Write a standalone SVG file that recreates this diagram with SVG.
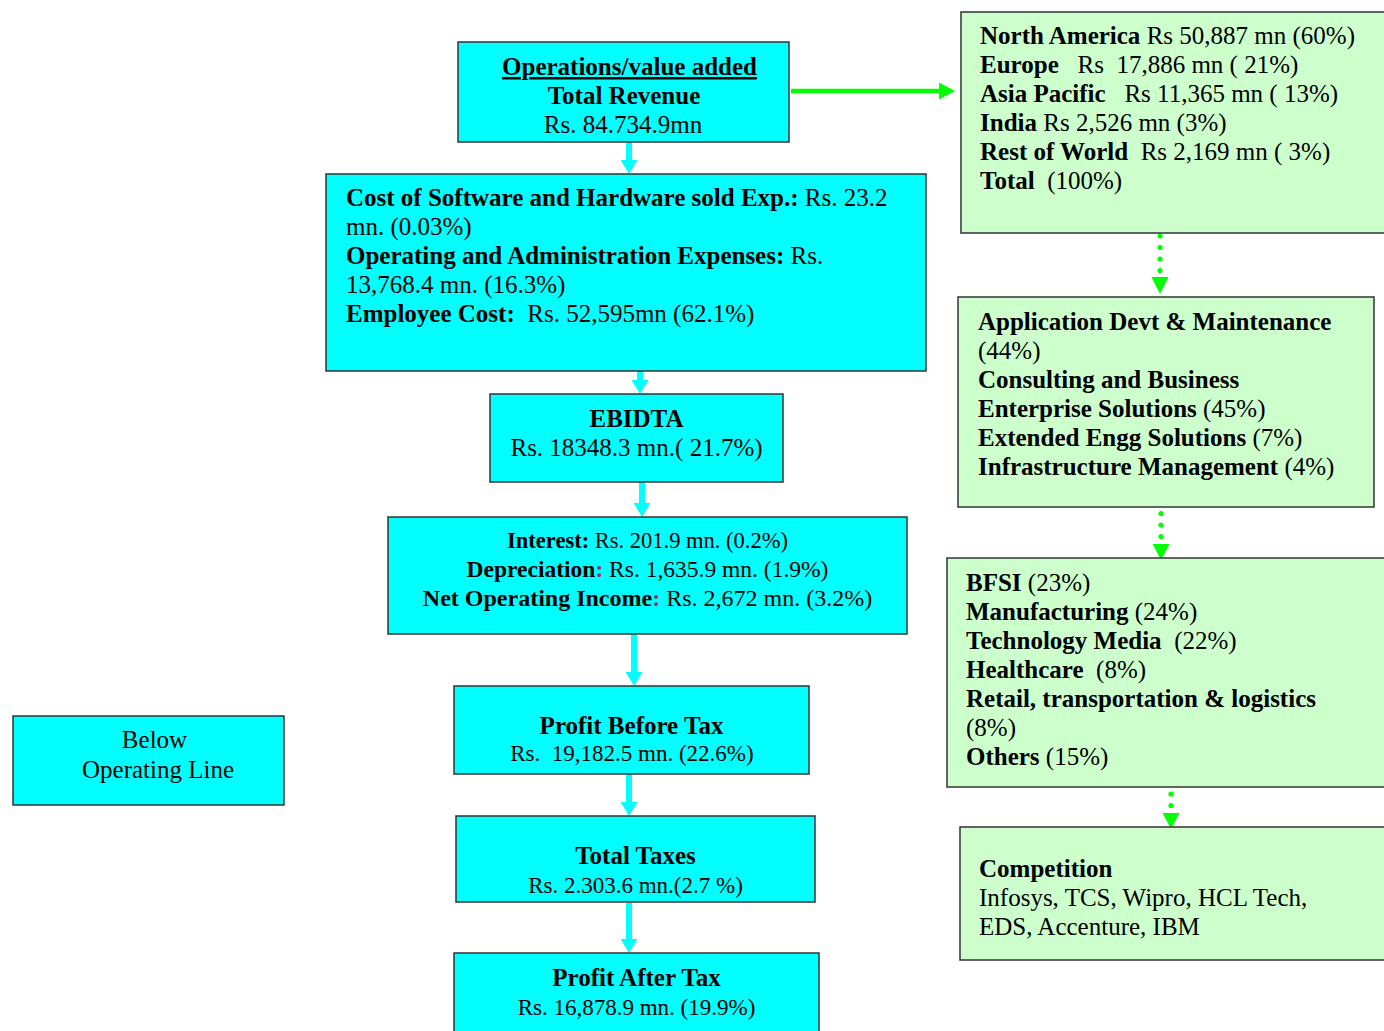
<svg xmlns="http://www.w3.org/2000/svg" width="1384" height="1031" viewBox="0 0 1384 1031">
<style>
.box{fill:#00FFFF;stroke:#333;stroke-width:1.5}
.gbox{fill:#CCFFCC;stroke:#333;stroke-width:1.5}
text{font-family:"Liberation Serif","Times New Roman",serif;font-size:25px;fill:#000;white-space:pre}
.b{font-weight:bold}
.c{text-anchor:middle}
.s23{font-size:23px}
.cy{stroke:#00FFFF;stroke-width:6;fill:none}
.gs{stroke:#00FF00;stroke-width:4.5;fill:none}
.gh{fill:#00FF00}
.pk{fill:#993366}
</style>
<defs>
<marker id="cyHead" markerUnits="userSpaceOnUse" viewBox="0 0 14 17" markerWidth="14" markerHeight="17" refX="0" refY="8.5" orient="auto"><path d="M0,0 L14,8.5 L0,17 z" fill="#00FFFF"/></marker>
<marker id="gHead" markerUnits="userSpaceOnUse" viewBox="0 0 16 17" markerWidth="16" markerHeight="17" refX="0" refY="8.5" orient="auto"><path d="M0,0 L16,8.5 L0,17 z" fill="#00FF00"/></marker>
</defs>
<rect width="1384" height="1031" fill="#fff"/>
<g id="connectors">
<line class="cy" x1="629" y1="142" x2="629" y2="160" marker-end="url(#cyHead)"/>
<line class="cy" x1="640" y1="371" x2="640" y2="380" marker-end="url(#cyHead)"/>
<line class="cy" x1="642" y1="482" x2="642" y2="503" marker-end="url(#cyHead)"/>
<line class="cy" x1="634" y1="634" x2="634" y2="672" marker-end="url(#cyHead)"/>
<line class="cy" x1="629" y1="774" x2="629" y2="802" marker-end="url(#cyHead)"/>
<line class="cy" x1="629" y1="903" x2="629" y2="939" marker-end="url(#cyHead)"/>
<line class="gs" x1="791" y1="91" x2="939" y2="91" marker-end="url(#gHead)"/>
<g class="gh">
<circle cx="1160" cy="236" r="2.6"/><circle cx="1160" cy="247.5" r="2.6"/><circle cx="1160" cy="259" r="2.6"/><circle cx="1160" cy="270.5" r="2.6"/>
<polygon points="1151.5,277 1168.5,277 1160,294"/>
<circle cx="1161" cy="502" r="2.6"/><circle cx="1161" cy="513.5" r="2.6"/><circle cx="1161" cy="525" r="2.6"/><circle cx="1161" cy="536.5" r="2.6"/>
<polygon points="1152.5,544 1169.5,544 1161,560"/>
<circle cx="1171" cy="771" r="2.6"/><circle cx="1171" cy="782.5" r="2.6"/><circle cx="1171" cy="794" r="2.6"/><circle cx="1171" cy="805.5" r="2.6"/>
<polygon points="1162.5,813 1179.5,813 1171,829"/>
</g>
</g>
<g id="node-revenue">
<rect class="box" x="458" y="42" width="331" height="100"/>
<text class="c b" x="629.5" y="75" text-decoration="underline">Operations/value added</text>
<text class="c b" x="624" y="104">Total Revenue</text>
<text class="c" x="623" y="133">Rs. 84.734.9mn</text>
</g>
<g id="node-costs">
<rect class="box" x="326" y="174" width="600" height="197"/>
<text x="346" y="206"><tspan class="b">Cost of Software and Hardware sold Exp.:</tspan> Rs. 23.2</text>
<text x="346" y="235">mn. (0.03%)</text>
<text x="346" y="264"><tspan class="b">Operating and Administration Expenses:</tspan> Rs.</text>
<text x="346" y="293">13,768.4 mn. (16.3%)</text>
<text x="346" y="322"><tspan class="b">Employee Cost:</tspan>  Rs. 52,595mn (62.1%)</text>
</g>
<g id="node-ebidta">
<rect class="box" x="490" y="394" width="293" height="88"/>
<text class="c b" x="636.5" y="427">EBIDTA</text>
<text class="c" x="636.5" y="456">Rs. 18348.3 mn.( 21.7%)</text>
</g>
<g id="node-interest">
<rect class="box" x="388" y="517" width="519" height="117"/>
<text class="c" x="647.5" y="548" style="font-size:22.5px"><tspan class="b">Interest:</tspan> Rs. 201.9 mn. (0.2%)</text>
<text class="c" x="647.5" y="577" style="font-size:23.5px"><tspan class="b">Depreciation</tspan><tspan class="b pk">:</tspan> Rs. 1,635.9 mn. (1.9%)</text>
<text class="c" x="647.5" y="606" style="font-size:24px"><tspan class="b">Net Operating Income</tspan><tspan class="b pk">:</tspan> Rs. 2,672 mn. (3.2%)</text>
</g>
<g id="node-pbt">
<rect class="box" x="454" y="686" width="355" height="88"/>
<text class="c b" x="631.5" y="734">Profit Before Tax</text>
<text class="c s23" x="632" y="761">Rs.  19,182.5 mn. (22.6%)</text>
</g>
<g id="node-taxes">
<rect class="box" x="456" y="816" width="359" height="86"/>
<text class="c b" x="635.5" y="864">Total Taxes</text>
<text class="c s23" x="635.5" y="893">Rs. 2.303.6 mn.(2.7 %)</text>
</g>
<g id="node-pat">
<rect class="box" x="454" y="953" width="365" height="100"/>
<text class="c b" x="636.5" y="986">Profit After Tax</text>
<text class="c s23" x="636.5" y="1015">Rs. 16,878.9 mn. (19.9%)</text>
</g>
<g id="node-below">
<rect class="box" x="13" y="716" width="271" height="89"/>
<text class="c" x="154.5" y="748">Below</text>
<text class="c" x="158" y="778">Operating Line</text>
</g>
<g id="node-geography">
<rect class="gbox" x="961" y="12" width="440" height="221"/>
<text x="980" y="44"><tspan class="b">North America</tspan> Rs 50,887 mn (60%)</text>
<text x="980" y="73"><tspan class="b">Europe</tspan>   Rs  17,886 mn ( 21%)</text>
<text x="980" y="102"><tspan class="b">Asia Pacific</tspan>   Rs 11,365 mn ( 13%)</text>
<text x="980" y="131"><tspan class="b">India</tspan> Rs 2,526 mn (3%)</text>
<text x="980" y="160"><tspan class="b">Rest of World</tspan>  Rs 2,169 mn ( 3%)</text>
<text x="980" y="189"><tspan class="b">Total</tspan>  (100%)</text>
</g>
<g id="node-services">
<rect class="gbox" x="958" y="297" width="416" height="210"/>
<text class="b" x="978" y="330">Application Devt &amp; Maintenance</text>
<text x="978" y="359">(44%)</text>
<text class="b" x="978" y="388">Consulting and Business</text>
<text x="978" y="417"><tspan class="b">Enterprise Solutions</tspan> (45%)</text>
<text x="978" y="446"><tspan class="b">Extended Engg Solutions</tspan> (7%)</text>
<text x="978" y="475"><tspan class="b">Infrastructure Management</tspan> (4%)</text>
</g>
<g id="node-verticals">
<rect class="gbox" x="947" y="558" width="450" height="229"/>
<text x="966" y="591"><tspan class="b">BFSI</tspan> (23%)</text>
<text x="966" y="620"><tspan class="b">Manufacturing</tspan> (24%)</text>
<text x="966" y="649"><tspan class="b">Technology Media</tspan>  (22%)</text>
<text x="966" y="678"><tspan class="b">Healthcare</tspan>  (8%)</text>
<text class="b" x="966" y="707">Retail, transportation &amp; logistics</text>
<text x="966" y="736">(8%)</text>
<text x="966" y="765"><tspan class="b">Others</tspan> (15%)</text>
</g>
<g id="node-competition">
<rect class="gbox" x="960" y="827" width="440" height="133"/>
<text class="b" x="979" y="877">Competition</text>
<text x="979" y="906">Infosys, TCS, Wipro, HCL Tech,</text>
<text x="979" y="935">EDS, Accenture, IBM</text>
</g>
</svg>
